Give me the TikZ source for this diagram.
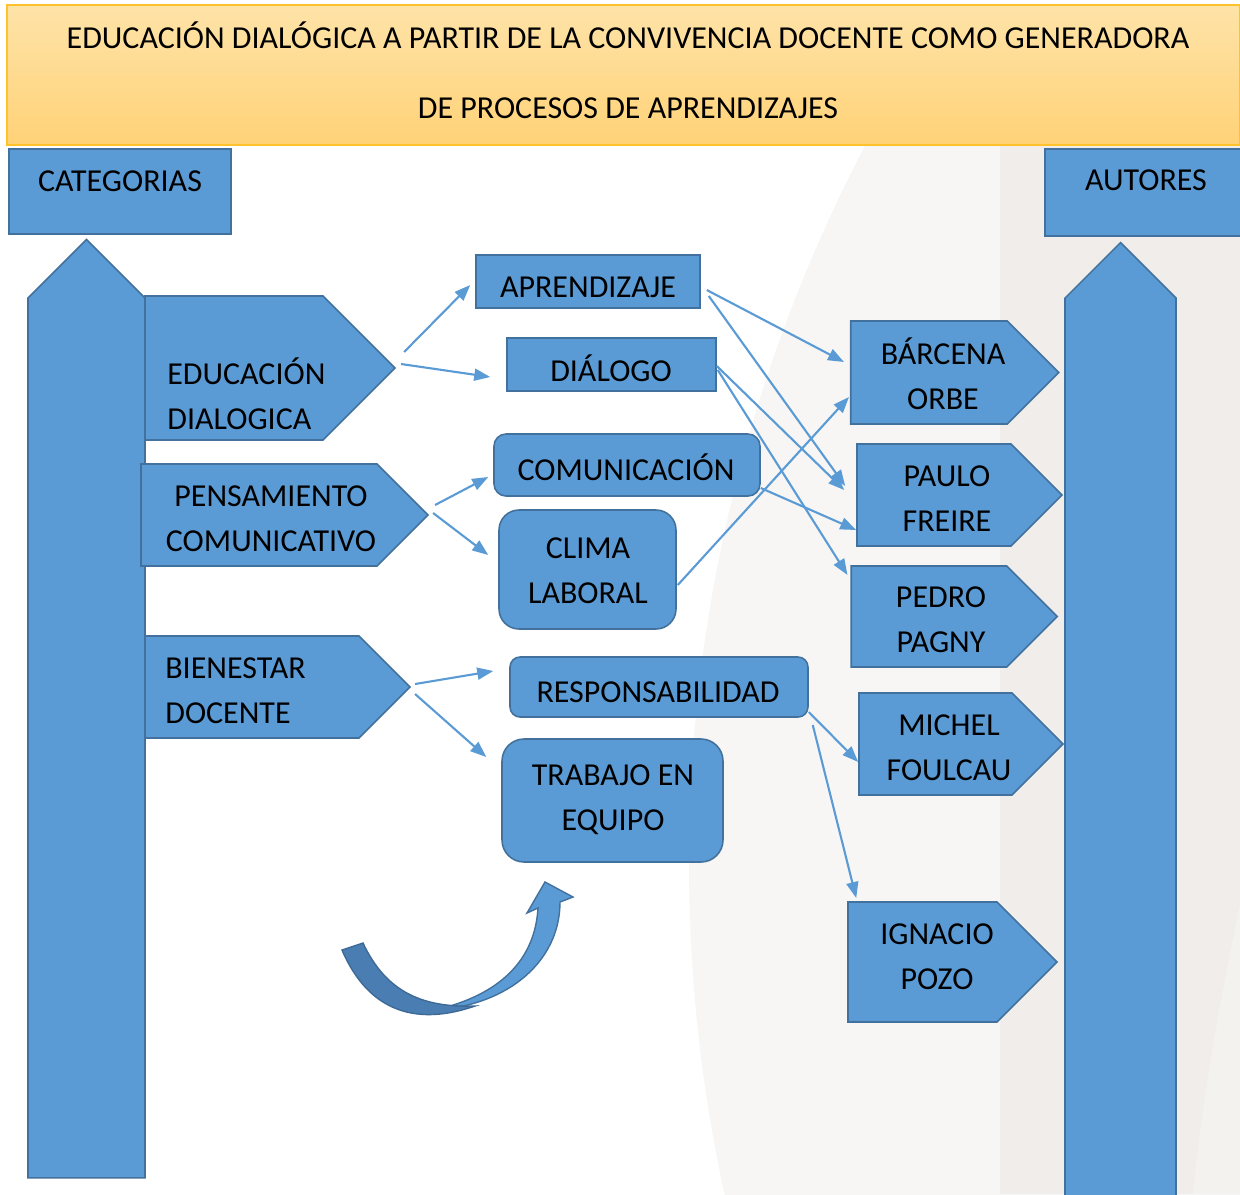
\documentclass[tikz,border=0pt]{standalone}
\usepackage{fontspec}
\setmainfont{Carlito}
\usetikzlibrary{shapes.symbols}
\usetikzlibrary{arrows.meta}
\usetikzlibrary{calc}

\definecolor{boxblue}{HTML}{5B9BD5}
\definecolor{boxline}{HTML}{41719C}
\definecolor{curvedark}{HTML}{4A7EB2}
\definecolor{curveline}{HTML}{3D6A96}
\definecolor{titletop}{HTML}{FEE3A8}
\definecolor{titlebot}{HTML}{FFD277}
\definecolor{titleline}{HTML}{FFC22A}
\definecolor{bgone}{HTML}{F7F6F4}
\definecolor{bgtwo}{HTML}{F0EDEA}
\definecolor{bgthree}{HTML}{F4F2EF}

\begin{document}
\begin{tikzpicture}[x=0.02cm, y=-0.02cm,
	blk/.style={draw=boxline, fill=boxblue, line width=0.9pt, inner sep=0pt},
	sigr/.style={blk, signal, signal to=east, signal pointer angle=90},
	sigu/.style={blk, signal, signal to=north, signal pointer angle=90},
	rbox/.style={blk, rounded corners=#1},
	txt/.style={inner sep=0pt, align=center, font=\fontsize{18.2}{25.6}\selectfont},
	conn/.style={draw=boxblue, line width=1.2pt, -{Triangle[length=0.32cm, width=0.24cm]}}]
	\useasboundingbox (0,0) rectangle (1240,1194);
	% background
	\fill[white] (0,0) rectangle (1240,1194);
	\begin{scope}
		\clip (0,145) rectangle (1240,1194);
		\fill[bgone] (2235,863) circle (1546);
		\fill[bgtwo] (1000,145) rectangle (1240,1194);
		\fill[bgthree] (1240,905) .. controls (1220,1000) and (1202,1100) .. (1193,1194) -- (1240,1194) -- cycle;
	\end{scope}

	% title
	\node[draw=titleline, line width=1pt, top color=titletop, bottom color=titlebot, minimum width=24.66cm, minimum height=2.8cm] (ttl) at (623.5,75) {};
	\node[txt] (ttl-a) at (628,35) {EDUCACIÓN DIALÓGICA A PARTIR DE LA CONVIVENCIA DOCENTE COMO GENERADORA};
	\node[txt] (ttl-b) at (628,108) {DE PROCESOS DE APRENDIZAJES};

	% headers
	\node[blk, minimum width=4.44cm, minimum height=1.7cm] (cat) at (120,191.5) {};
	\node[txt] (cat-t) at (120,181) {CATEGORIAS};
	\node[blk, minimum width=4.04cm, minimum height=1.74cm] (aut) at (1146,192.5) {};
	\node[txt] (aut-t) at (1146,180) {AUTORES};

	% columns
	\node[sigu, minimum width=2.34cm, minimum height=17.6cm] (catup) at (86.5,738) {};
	\node[sigu, minimum width=2.22cm, minimum height=18.24cm] (autup) at (1120.5,754) {};

	% categories
	\node[sigr, minimum width=5cm, minimum height=2.88cm] (educ) at (234,368) {};
	\node[txt, anchor=west, align=left] (educ-t) at (167,394) {EDUCACIÓN\\DIALOGICA};
	\node[sigr, minimum width=5.74cm, minimum height=2.04cm] (pens) at (259,515) {};
	\node[txt] (pens-t) at (271,518.5) {PENSAMIENTO\\COMUNICATIVO};
	\node[sigr, minimum width=5.3cm, minimum height=2.04cm] (bien) at (252,687) {};
	\node[txt, anchor=west, align=left] (bien-t) at (165,690.5) {BIENESTAR\\DOCENTE};

	% subcategories
	\node[blk, minimum width=4.48cm, minimum height=1.06cm] (apr) at (588,281.5) {};
	\node[txt] (apr-t) at (588,287) {APRENDIZAJE};
	\node[blk, minimum width=4.18cm, minimum height=1.06cm] (dia) at (611.5,364.5) {};
	\node[txt] (dia-t) at (611,368) {DIÁLOGO};
	\node[rbox=0.24cm, minimum width=5.32cm, minimum height=1.24cm] (com) at (627,465) {};
	\node[txt] (com-t) at (626,467) {COMUNICACIÓN};
	\node[rbox=0.4cm, minimum width=3.54cm, minimum height=2.38cm] (clima) at (587.5,569.5) {};
	\node[txt] (clima-t) at (588,570.5) {CLIMA\\LABORAL};
	\node[rbox=0.2cm, minimum width=5.96cm, minimum height=1.2cm] (resp) at (659,687) {};
	\node[txt] (resp-t) at (658,692) {RESPONSABILIDAD};
	\node[rbox=0.44cm, minimum width=4.42cm, minimum height=2.46cm] (trab) at (612.5,800.5) {};
	\node[txt] (trab-t) at (613,799.5) {TRABAJO EN\\EQUIPO};

	% authors
	\node[sigr, minimum width=4.16cm, minimum height=2.06cm] (barc) at (929,372.5) {};
	\node[txt] (barc-t) at (943,374) {BÁRCENA\\ORBE};
	\node[sigr, minimum width=4.1cm, minimum height=2.04cm] (paulo) at (934,495) {};
	\node[txt] (paulo-t) at (947,498.5) {PAULO\\FREIRE};
	\node[sigr, minimum width=4.12cm, minimum height=2.02cm] (pedro) at (929,616.5) {};
	\node[txt] (pedro-t) at (941,620) {PEDRO\\PAGNY};
	\node[sigr, minimum width=4.08cm, minimum height=2.04cm] (michel) at (935.5,744) {};
	\node[txt] (michel-t) at (949,747.5) {MICHEL\\FOULCAU};
	\node[sigr, minimum width=4.18cm, minimum height=2.4cm] (ignacio) at (922.5,962) {};
	\node[txt] (ignacio-t) at (937,956.5) {IGNACIO\\POZO};

	% connectors
	\draw[conn] ($(educ.east)+(8,-16)$) -- ($(apr.west)+(-5,3.5)$);
	\draw[conn] ($(educ.east)+(5,-4)$) -- ($(dia.west)+(-16,12.5)$);
	\draw[conn] ($(pens.east)+(6,-10)$) -- ($(com.west)+(-5,12)$);
	\draw[conn] ($(pens.east)+(4,-2)$) -- ($(clima.west)+(-10,-14.5)$);
	\draw[conn] ($(bien.east)+(4,-3)$) -- ($(resp.west)+(-16,-16)$);
	\draw[conn] ($(bien.east)+(4,7)$) -- ($(trab.west)+(-15,-43.5)$);
	\draw[conn] ($(apr.east)+(6,8.5)$) -- ($(barc.west)+(-6,-10.5)$);
	\draw[conn] ($(apr.east)+(8,14.5)$) -- ($(paulo.west)+(-11,-9)$);
	\draw[conn] ($(dia.east)+(0,1.5)$) -- ($(paulo.west)+(-12,-5)$);
	\draw[conn] ($(dia.east)+(1,5.5)$) -- ($(pedro.west)+(-3,-41.5)$);
	\draw[conn] ($(com.east)+(0,23)$) -- ($(paulo.west)+(0,35)$);
	\draw[conn] ($(clima.east)+(1,15.5)$) -- ($(barc.west)+(-1,24.5)$);
	\draw[conn] ($(resp.east)+(0,25)$) -- ($(michel.west)+(0,18)$);
	\draw[conn] ($(resp.east)+(4,38)$) -- ($(ignacio.west)+(9,-64)$);

	% curved arrow
	\filldraw[fill=boxblue, draw=boxline, line width=0.8pt] (435,1010) .. controls (510,1005) and (560,960) .. (560,902) -- (573,897) -- (545,882) -- (527,913) -- (538,908) .. controls (535,960) and (500,995) .. (435,1010) -- cycle;
	\filldraw[fill=curvedark, draw=curveline, line width=0.8pt] (342,950) .. controls (370,1015) and (420,1025) .. (475,1006) .. controls (420,1008) and (385,990) .. (363,943) -- cycle;
\end{tikzpicture}
\end{document}
